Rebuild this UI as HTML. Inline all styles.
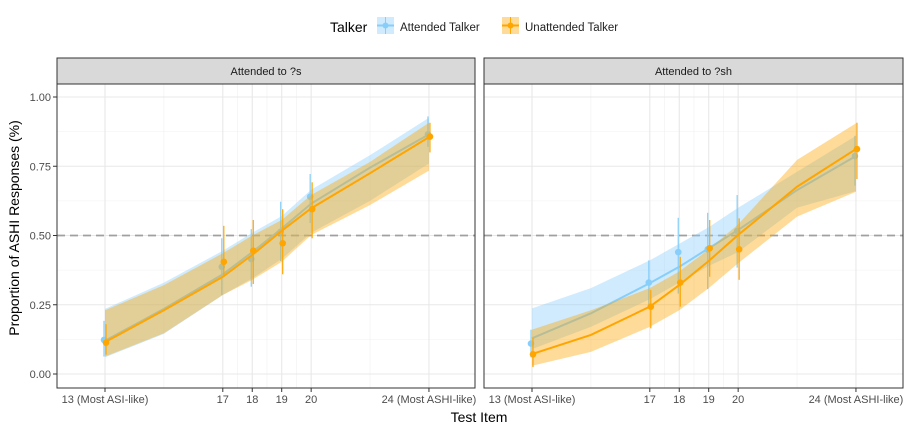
<!DOCTYPE html>
<html><head><meta charset="utf-8"><style>
body{margin:0;background:#fff;font-family:"Liberation Sans",Arial,sans-serif}
svg text{font-family:"Liberation Sans",Arial,sans-serif}
</style></head><body>
<svg id="c" width="912" height="432" xmlns="http://www.w3.org/2000/svg">
<g>
<text x="330" y="32" font-size="14" fill="#000">Talker</text>
<g>
<rect x="377" y="17" width="17" height="17" fill="#87CEFA" opacity="0.4"/>
<line x1="377" y1="25.5" x2="394" y2="25.5" stroke="#87CEFA" stroke-width="2"/>
<line x1="385.5" y1="17" x2="385.5" y2="34" stroke="#87CEFA" stroke-width="1"/>
<circle cx="385.5" cy="25.5" r="3" fill="#87CEFA"/>
<text x="400" y="31" font-size="11.5" fill="#222">Attended Talker</text></g>
<g>
<rect x="502" y="17" width="17" height="17" fill="#FFA500" opacity="0.4"/>
<line x1="502" y1="25.5" x2="519" y2="25.5" stroke="#FFA500" stroke-width="2"/>
<line x1="510.5" y1="17" x2="510.5" y2="34" stroke="#FFA500" stroke-width="1"/>
<circle cx="510.5" cy="25.5" r="3" fill="#FFA500"/>
<text x="525" y="31" font-size="11.5" fill="#222">Unattended Talker</text></g>
</g>
<text transform="translate(19,228) rotate(-90)" text-anchor="middle" font-size="14">Proportion of ASHI Responses (%)</text>
<text x="479" y="422" text-anchor="middle" font-size="14">Test Item</text>
<g id="p"></g>
</svg>
<script>
const ticks=[13,17,18,19,20,24];
const tickLabels=["13 (Most ASI-like)","17","18","19","20","24 (Most ASHI-like)"];
const yTicks=[0,0.25,0.5,0.75,1];
const yTickLabels=["0.00","0.25","0.50","0.75","1.00"];
const panelTitles=["Attended to ?s","Attended to ?sh"];
const ptX=[13,17,18,19,20,24];
const fitX=[13,15,17,18,19,20,22,24];
// panel 1
const p1AttY=[0.123,0.387,0.415,0.514,0.64,0.865];
const p1AttLo=[0.063,0.285,0.315,0.408,0.545,0.82];
const p1AttHi=[0.192,0.49,0.523,0.622,0.722,0.93];
const p1UnaY=[0.113,0.405,0.445,0.472,0.595,0.857];
const p1UnaLo=[0.07,0.351,0.325,0.36,0.49,0.8];
const p1UnaHi=[0.18,0.535,0.556,0.595,0.692,0.907];
const p1AttFit=[0.12,0.235,0.36,0.44,0.525,0.615,0.745,0.865];
const p1AttFitLo=[0.06,0.145,0.285,0.345,0.415,0.51,0.625,0.76];
const p1AttFitHi=[0.235,0.33,0.445,0.51,0.57,0.665,0.79,0.925];
const p1UnaFit=[0.115,0.23,0.351,0.43,0.517,0.598,0.725,0.855];
const p1UnaFitLo=[0.063,0.147,0.285,0.34,0.405,0.502,0.61,0.734];
const p1UnaFitHi=[0.23,0.321,0.436,0.5,0.556,0.646,0.766,0.907];
// panel 2
const p2AttY=[0.11,0.33,0.44,0.45,0.516,0.787];
const p2AttLo=[0.06,0.243,0.29,0.307,0.384,0.68];
const p2AttHi=[0.16,0.41,0.564,0.582,0.646,0.86];
const p2UnaY=[0.071,0.243,0.33,0.454,0.45,0.812];
const p2UnaLo=[0.025,0.165,0.243,0.351,0.34,0.704];
const p2UnaHi=[0.13,0.303,0.423,0.556,0.562,0.907];
const p2AttFit=[0.129,0.219,0.328,0.387,0.454,0.52,0.664,0.787];
const p2AttFitLo=[0.09,0.17,0.27,0.33,0.39,0.44,0.6,0.66];
const p2AttFitHi=[0.237,0.31,0.41,0.47,0.53,0.6,0.73,0.86];
const p2UnaFit=[0.072,0.141,0.243,0.321,0.408,0.502,0.676,0.812];
const p2UnaFitLo=[0.03,0.08,0.17,0.23,0.31,0.4,0.568,0.658];
const p2UnaFitHi=[0.16,0.23,0.31,0.37,0.45,0.54,0.773,0.905];

const NS="http://www.w3.org/2000/svg";
const root=document.getElementById('p');
function mk(tag,attrs,parent){const e=document.createElementNS(NS,tag);for(const k in attrs)e.setAttribute(k,attrs[k]);(parent||root).appendChild(e);return e;}
const yS=v=>374-v*277;
const panels=[
 {l:57,r:475,x0:105,name:'panel-s',att:[p1AttY,p1AttLo,p1AttHi,p1AttFit,p1AttFitLo,p1AttFitHi],una:[p1UnaY,p1UnaLo,p1UnaHi,p1UnaFit,p1UnaFitLo,p1UnaFitHi]},
 {l:484,r:903,x0:532,name:'panel-sh',att:[p2AttY,p2AttLo,p2AttHi,p2AttFit,p2AttFitLo,p2AttFitHi],una:[p2UnaY,p2UnaLo,p2UnaHi,p2UnaFit,p2UnaFitLo,p2UnaFitHi]}
];
panels.forEach((P,pi)=>{
 const g=mk('g',{});
 
 
 const xS=v=>P.x0+(v-13)*29.45;
 const strip=mk('rect',{x:P.l,y:58,width:P.r-P.l,height:26,fill:'#d9d9d9',stroke:'#333','stroke-width':1},g);
 
 
 const st=mk('text',{x:(P.l+P.r)/2,y:75,'text-anchor':'middle','font-size':11,fill:'#1a1a1a'},g);
 st.textContent=panelTitles[pi];
 
 
 // grid
 [0.125,0.375,0.625,0.875].forEach(v=>mk('line',{x1:P.l,x2:P.r,y1:yS(v),y2:yS(v),stroke:'#f0f0f0','stroke-width':0.6},g));
 [15,17.5,18.5,19.5,22].forEach(v=>mk('line',{x1:xS(v),x2:xS(v),y1:84,y2:388,stroke:'#f0f0f0','stroke-width':0.6},g));
 yTicks.forEach(v=>mk('line',{x1:P.l,x2:P.r,y1:yS(v),y2:yS(v),stroke:'#e8e8e8','stroke-width':1.1},g));
 ticks.forEach(v=>mk('line',{x1:xS(v),x2:xS(v),y1:84,y2:388,stroke:'#e8e8e8','stroke-width':1.1},g));
 mk('line',{x1:P.l,x2:P.r,y1:yS(0.5),y2:yS(0.5),stroke:'#a0a0a0','stroke-width':1.8,'stroke-dasharray':'8,5'},g);
 function series(d,col,nm){
  const [py,lo,hi,fit,flo,fhi]=d;
  let pts=fitX.map((x,i)=>xS(x)+','+yS(fhi[i])).concat(fitX.slice().reverse().map((x,j)=>{const i=fitX.length-1-j;return xS(x)+','+yS(flo[i]);}));
  const rb=mk('polygon',{points:pts.join(' '),fill:col,opacity:0.4},g);
  
  
  const ln=mk('polyline',{points:fitX.map((x,i)=>xS(x)+','+yS(fit[i])).join(' '),fill:'none',stroke:col,'stroke-width':2},g);
  
  
  ptX.forEach((x,i)=>{
   const off=nm.includes('unatt')?1:-1;
   const e=mk('line',{x1:xS(x)+off,x2:xS(x)+off,y1:yS(lo[i]),y2:yS(hi[i]),stroke:col,'stroke-width':1.2},g);
   
   
   const c=mk('circle',{cx:xS(x)+off,cy:yS(py[i]),r:3.3,fill:col},g);
   
   
  });
 }
 series(P.att,'#87CEFA','attended');
 series(P.una,'#FFA500','unattended');
 const bd=mk('rect',{x:P.l,y:84,width:P.r-P.l,height:304,fill:'none',stroke:'#333','stroke-width':1},g);
 
 
 ticks.forEach((v,i)=>{
  mk('line',{x1:xS(v),x2:xS(v),y1:388,y2:392,stroke:'#333'},g);
  const t=mk('text',{x:xS(v),y:403,'text-anchor':'middle','font-size':11,fill:'#4d4d4d'},g);
  t.textContent=tickLabels[i];
  
  
 });
 if(pi===0){yTicks.forEach((v,i)=>{
  mk('line',{x1:P.l-4,x2:P.l,y1:yS(v),y2:yS(v),stroke:'#333'},g);
  const t=mk('text',{x:P.l-6,y:yS(v)+4,'text-anchor':'end','font-size':11,fill:'#4d4d4d'},g);
  t.textContent=yTickLabels[i];
  
  
 });}
});
</script>
</body></html>
